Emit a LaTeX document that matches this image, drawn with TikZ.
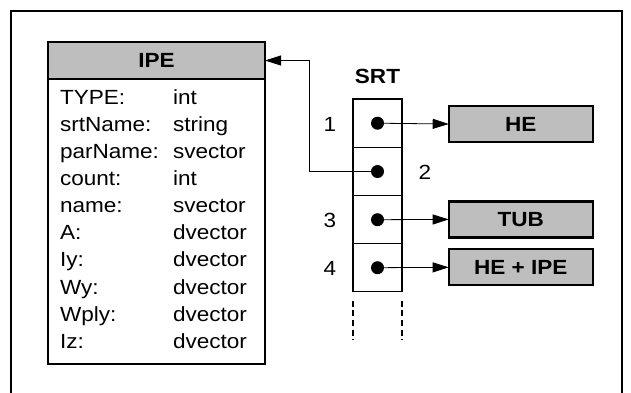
\documentclass[tikz,border=0pt]{standalone}
\usepackage{fontspec}
\setmainfont{Liberation Sans}[FakeStretch=1.1]
\usetikzlibrary{arrows.meta}
\definecolor{boxgray}{RGB}{190,190,190}
\begin{document}
\begin{tikzpicture}[x=1pt,y=-1pt,
  every node/.style={inner sep=0pt,outer sep=0pt},
  txt/.style={font=\fontsize{20.5}{24}\selectfont},
  bold/.style={font=\fontsize{20.5}{24}\selectfont\bfseries},
  grayhead/.style={draw,line width=2.2pt,fill=boxgray,minimum width=217pt,minimum height=37pt,bold},
  target/.style={draw,line width=2.2pt,fill=boxgray,minimum width=144pt,minimum height=36pt,bold},
  cell/.style={draw,line width=0.8pt,minimum width=48.3pt,minimum height=48.2pt},
  dot/.style={circle,fill=black,minimum size=13pt},
  link/.style={line width=0.8pt,-{Triangle[length=16pt,width=10pt]}},
  field/.style={txt,anchor=base west}]
\useasboundingbox (0,0) rectangle (631,392);
\begin{scope}
\clip (0,0) rectangle (631,392);
\draw[line width=2pt] (11,410) -- (11,11) -- (622,11) -- (622,410);
\end{scope}

% IPE record
\node[draw,line width=2.2pt,fill=white,minimum width=217pt,minimum height=285pt] (ipebody) at (156.5,221.5) {};
\node[grayhead] (ipe) at (156.5,60.5) {IPE};
\foreach \k/\f/\t in {0/TYPE:/int,1/srtName:/string,2/parName:/svector,3/count:/int,4/name:/svector,5/A:/dvector,6/Iy:/dvector,7/Wy:/dvector,8/Wply:/dvector,9/Iz:/dvector}{
  \node[field] (f\k) at (60,{104.5+27.08*\k}) {\f};
  \node[field] (t\k) at (173,{104.5+27.08*\k}) {\t};
}

% SRT column
\node[bold] (srt) at (377.5,76) {SRT};
\node[cell] (c1) at (377.5,123.2) {};
\node[cell] (c2) at (377.5,171.5) {};
\node[cell] (c3) at (377.5,219.7) {};
\node[cell] (c4) at (377.5,267.7) {};
\draw[line width=2.2pt] (c4.south west) -- (c1.north west) -- (c1.north east) -- (c4.south east);
\coordinate (dl) at ([yshift=-9pt]c4.south west);
\coordinate (dr) at ([yshift=-9pt]c4.south east);
\draw[line width=2.2pt,dash pattern=on 6pt off 3.6pt] (dl) -- ++(0,39);
\draw[line width=2.2pt,dash pattern=on 6pt off 3.6pt] (dr) -- ++(0,39);

\node[txt] (n1) at (330,124) {1};
\node[txt] (n2) at (425,172) {2};
\node[txt] (n3) at (330,220) {3};
\node[txt] (n4) at (330,268) {4};

\node[dot] (d1) at (c1) {};
\node[dot] (d2) at (c2) {};
\node[dot] (d3) at (c3) {};
\node[dot] (d4) at (c4) {};

% referenced records
\node[target] (he) at (520.7,124) {HE};
\node[target] (tub) at (520.7,219.4) {TUB};
\node[target] (heipe) at (520.7,267.3) {HE + IPE};

\draw[link] (d1.center) -- (he.west);
\draw[link] (d3.center) -- (tub.west);
\draw[link] (d4.center) -- (heipe.west);
\draw[link] (d2.center) -- (309,171.5) -- (309,60.5) -- (ipe.east);
\end{tikzpicture}
\end{document}
